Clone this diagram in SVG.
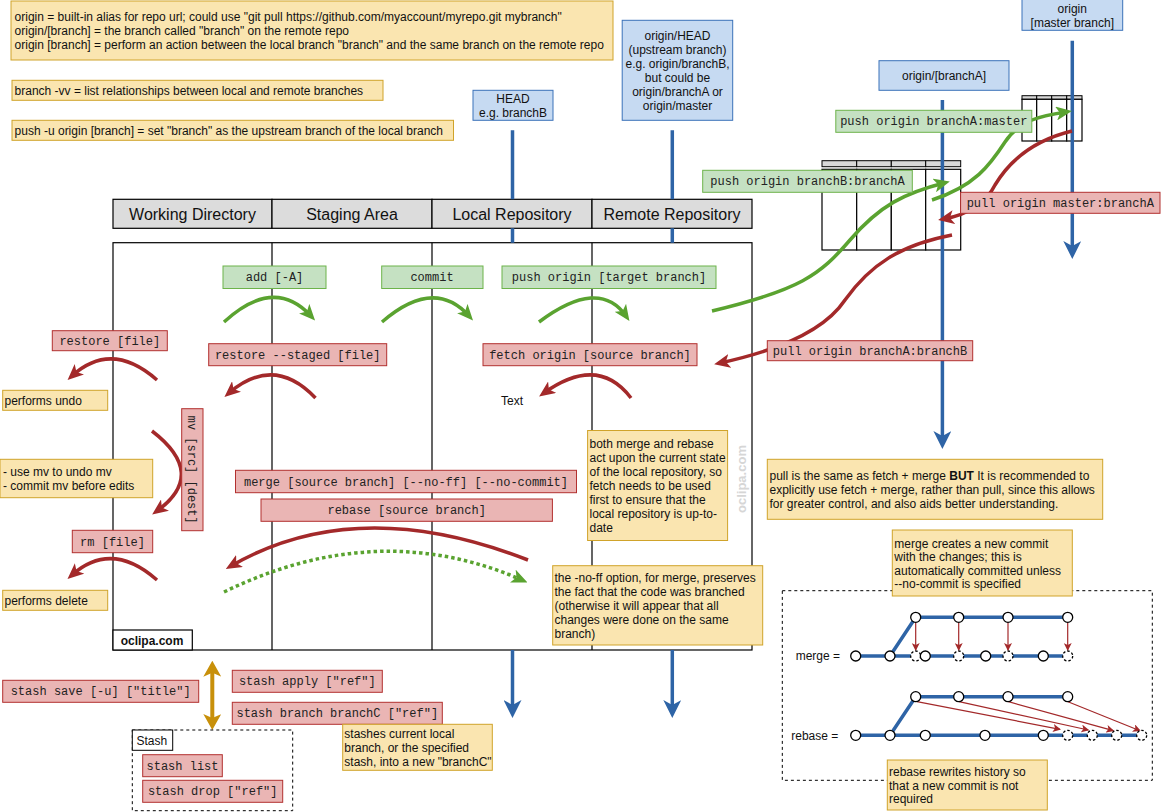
<svg xmlns="http://www.w3.org/2000/svg" width="1161" height="812" viewBox="0 0 1161 812">
<style>
.note{fill:#fae5b0;stroke:#d0a32a;stroke-width:1}
.red{fill:#eab5b4;stroke:#b2302f;stroke-width:1}
.green{fill:#c5e1c2;stroke:#6db34a;stroke-width:1}
.blue{fill:#c6daf2;stroke:#3b72b9;stroke-width:1}
.hdr{fill:#dcdcdc;stroke:#000;stroke-width:1.2}
.t{font-family:"Liberation Sans",Arial,sans-serif;font-size:12px;fill:#111}
.c{text-anchor:middle}
.e{text-anchor:end}
.h{font-size:16px}
.m{font-family:"Liberation Mono","Courier New",monospace;font-size:12px;fill:#222;text-anchor:middle}
.arcG{fill:none;stroke:#5aa330;stroke-width:3.5}
.arcR{fill:none;stroke:#a3292a;stroke-width:3.5}
.bl{fill:none;stroke:#2e64a6;stroke-width:3.5}
.thin{fill:none;stroke:#a3292a;stroke-width:1.2}
.cw{fill:#fff;stroke:#000;stroke-width:1.3}
.cd{fill:#fff;stroke:#000;stroke-width:1.3;stroke-dasharray:2.5 2}
.dash{fill:none;stroke:#000;stroke-width:1;stroke-dasharray:3 3}
.gridh{fill:#d8d8d8;stroke:#000;stroke-width:1}
.gridb{fill:#fff;stroke:#000;stroke-width:1.2}
</style>
<defs>
<marker id="ahG" viewBox="0 0 16 14" refX="10" refY="7" markerWidth="16" markerHeight="14" markerUnits="userSpaceOnUse" orient="auto"><path d="M0,0 L16,7 L0,14 L4,7 Z" fill="#5aa330"/></marker>
<marker id="ahR" viewBox="0 0 16 14" refX="10" refY="7" markerWidth="16" markerHeight="14" markerUnits="userSpaceOnUse" orient="auto"><path d="M0,0 L16,7 L0,14 L4,7 Z" fill="#a3292a"/></marker>
<marker id="ahB" viewBox="0 0 18 18" refX="12" refY="9" markerWidth="18" markerHeight="18" markerUnits="userSpaceOnUse" orient="auto"><path d="M0,0 L18,9 L0,18 L5,9 Z" fill="#2e64a6"/></marker>
<marker id="ahO" viewBox="0 0 16 18" refX="10" refY="9" markerWidth="16" markerHeight="18" markerUnits="userSpaceOnUse" orient="auto-start-reverse"><path d="M0,0 L16,9 L0,18 L4,9 Z" fill="#c8900a"/></marker>
<marker id="ahS" viewBox="0 0 8 8" refX="7" refY="4" markerWidth="8" markerHeight="8" markerUnits="userSpaceOnUse" orient="auto"><path d="M0,0 L8,4 L0,8 L2,4 Z" fill="#a3292a"/></marker>
</defs>

<!-- top notes -->
<g id="note-origin">
<rect class="note" x="11" y="1" width="602" height="59"/>
<text class="t" x="14.6" y="21">origin = built-in alias for repo url; could use "git pull https://github.com/myaccount/myrepo.git mybranch"</text>
<text class="t" x="14.6" y="35">origin/[branch] = the branch called "branch" on the remote repo</text>
<text class="t" x="14.6" y="49">origin [branch] = perform an action between the local branch "branch" and the same branch on the remote repo</text>
</g>
<g id="note-vv"><rect class="note" x="12" y="80.3" width="371" height="20"/><text class="t" x="14.6" y="95">branch -vv = list relationships between local and remote branches</text></g>
<g id="note-pushu"><rect class="note" x="12" y="120.3" width="441.5" height="20"/><text class="t" x="14.6" y="134.6">push -u origin [branch] = set "branch" as the upstream branch of the local branch</text></g>

<!-- lifeline heads -->
<g id="head"><rect class="blue" x="473" y="90.3" width="80" height="30"/><text class="t c" x="513" y="103.3">HEAD</text><text class="t c" x="513" y="117">e.g. branchB</text></g>
<g id="origin-head"><rect class="blue" x="622.2" y="20.3" width="110.5" height="100"/>
<text class="t c" x="677.5" y="40">origin/HEAD</text>
<text class="t c" x="677.5" y="54.3">(upstream branch)</text>
<text class="t c" x="677.5" y="68.3">e.g. origin/branchB,</text>
<text class="t c" x="677.5" y="82.3">but could be</text>
<text class="t c" x="677.5" y="96.3">origin/branchA or</text>
<text class="t c" x="677.5" y="110.3">origin/master</text></g>
<g id="origin-brancha"><rect class="blue" x="879" y="60.7" width="130" height="29.6"/><text class="t c" x="944" y="80.3">origin/[branchA]</text></g>
<g id="origin-master"><rect class="blue" x="1022" y="-1" width="100.7" height="31.3"/><text class="t c" x="1072.3" y="13.2">origin</text><text class="t c" x="1072.3" y="27">[master branch]</text></g>

<!-- lane headers -->
<g id="lane-headers">
<rect class="hdr" x="113" y="199.3" width="159" height="29"/>
<rect class="hdr" x="272" y="199.3" width="160" height="29"/>
<rect class="hdr" x="432" y="199.3" width="160" height="29"/>
<rect class="hdr" x="592" y="199.3" width="160" height="29"/>
<text class="t c h" x="192.5" y="219.5">Working Directory</text>
<text class="t c h" x="352" y="219.5">Staging Area</text>
<text class="t c h" x="512" y="219.5">Local Repository</text>
<text class="t c h" x="672" y="219.5">Remote Repository</text>
</g>
<g id="frame">
<rect x="113" y="242.7" width="639" height="407.3" fill="#fff" stroke="#000" stroke-width="1.2"/>
<path d="M272,242.7 V650 M432,242.7 V650 M592,242.7 V650" stroke="#000" stroke-width="1.2" fill="none"/>
</g>

<!-- remote grids -->
<g id="grid-brancha">
<rect class="gridh" x="822" y="160.7" width="34.7" height="6"/><rect class="gridh" x="856.7" y="160.7" width="34.6" height="6"/><rect class="gridh" x="891.3" y="160.7" width="34.4" height="6"/><rect class="gridh" x="925.7" y="160.7" width="35" height="6"/>
<rect class="gridb" x="822" y="169.3" width="34.7" height="80.7"/><rect class="gridb" x="856.7" y="169.3" width="34.6" height="80.7"/><rect class="gridb" x="891.3" y="169.3" width="34.4" height="80.7"/><rect class="gridb" x="925.7" y="169.3" width="35" height="80.7"/>
</g>
<g id="grid-master">
<rect class="gridh" x="1022" y="95.7" width="14.7" height="3.6"/><rect class="gridh" x="1036.7" y="95.7" width="15" height="3.6"/><rect class="gridh" x="1051.7" y="95.7" width="15" height="3.6"/><rect class="gridh" x="1066.7" y="95.7" width="15.3" height="3.6"/>
<rect class="gridb" x="1022" y="99.3" width="14.7" height="41.7"/><rect class="gridb" x="1036.7" y="99.3" width="15" height="41.7"/><rect class="gridb" x="1051.7" y="99.3" width="15" height="41.7"/><rect class="gridb" x="1066.7" y="99.3" width="15.3" height="41.7"/>
</g>

<!-- connectors -->
<g id="connectors">
<path class="bl" d="M512.5,130.3 V199.3 M512.5,228.3 V242.7"/>
<path class="bl" d="M512.5,650 V712" marker-end="url(#ahB)"/>
<path class="bl" d="M672.3,130.3 V199.3 M672.3,228.3 V242.7"/>
<path class="bl" d="M672.3,650 V712" marker-end="url(#ahB)"/>
<path class="bl" d="M942.4,100 V443" marker-end="url(#ahB)"/>
<path class="bl" d="M1072.3,40.7 V253" marker-end="url(#ahB)"/>

<path class="arcG" d="M224,322 Q274,276 311,316" marker-end="url(#ahG)"/>
<path class="arcG" d="M382,322 Q434,277 469,316" marker-end="url(#ahG)"/>
<path class="arcG" d="M539,322 Q599,277 626,316" marker-end="url(#ahG)"/>

<path class="arcR" d="M315.5,398 Q274,354.5 229,393" marker-end="url(#ahR)"/>
<path class="arcR" d="M631,398 Q598,354.5 544,393" marker-end="url(#ahR)"/>
<path class="arcR" d="M157,380 Q111.5,340 72,376" marker-end="url(#ahR)"/>
<path class="arcR" d="M157,580 Q111.5,540 72,575" marker-end="url(#ahR)"/>
<path class="arcR" d="M152,431 Q208,474 157,511" marker-end="url(#ahR)"/>
<path class="arcR" d="M528,560 Q357,493 231,566" marker-end="url(#ahR)"/>
<path class="arcG" d="M224,592 Q378,517 522,580" stroke-dasharray="3.5 3" marker-end="url(#ahG)"/>

<path class="arcG" d="M712,311 C800,290 820,275 850,240 C880,205 905,193 944,183" marker-end="url(#ahG)"/>
<path class="arcG" d="M932,200 C975,186 990,165 1005,142 C1020,120 1040,116 1066,112" marker-end="url(#ahG)"/>
<path class="arcR" d="M1072,131 C1035,140 1010,160 995,185 C985,205 965,215 944,219" marker-end="url(#ahR)"/>
<path class="arcR" d="M952,235 C900,245 870,265 845,300 C825,330 780,350 720,363" marker-end="url(#ahR)"/>

<path d="M212.3,666.7 V724" fill="none" stroke="#c8900a" stroke-width="4" marker-start="url(#ahO)" marker-end="url(#ahO)"/>
</g>

<!-- command boxes -->
<g id="cmd-add"><rect class="green" x="223" y="266" width="103" height="22.5"/><text class="m" x="274.5" y="281">add [-A]</text></g>
<g id="cmd-commit"><rect class="green" x="381.7" y="266" width="101.3" height="22.5"/><text class="m" x="432" y="281">commit</text></g>
<g id="cmd-push-target"><rect class="green" x="502" y="266" width="214" height="22.5"/><text class="m" x="609" y="281">push origin [target branch]</text></g>
<g id="cmd-restore-staged"><rect class="red" x="208.7" y="343.7" width="178" height="22"/><text class="m" x="297.7" y="358.7">restore --staged [file]</text></g>
<g id="cmd-fetch"><rect class="red" x="483" y="343.7" width="214" height="22"/><text class="m" x="590" y="358.7">fetch origin [source branch]</text></g>
<g id="cmd-merge"><rect class="red" x="235.5" y="470.3" width="341" height="22.4"/><text class="m" x="406" y="485.5">merge [source branch] [--no-ff] [--no-commit]</text></g>
<g id="cmd-rebase"><rect class="red" x="261" y="499" width="291.4" height="22.3"/><text class="m" x="406.7" y="514.2">rebase [source branch]</text></g>
<g id="cmd-restore"><rect class="red" x="52.3" y="330.7" width="115" height="20"/><text class="m" x="109.8" y="344.7">restore [file]</text></g>
<g id="cmd-rm"><rect class="red" x="72.3" y="530.3" width="80.4" height="22.4"/><text class="m" x="112.5" y="545.5">rm [file]</text></g>
<g id="cmd-mv"><rect class="red" x="181.7" y="408.7" width="21.3" height="122"/><text class="m" x="192.3" y="473.7" transform="rotate(90 192.3 469.7)">mv [src] [dest]</text></g>
<g id="cmd-pull-ab"><rect class="red" x="767.3" y="340.7" width="205.4" height="20"/><text class="m" x="870" y="354.7">pull origin branchA:branchB</text></g>
<g id="cmd-pull-ma"><rect class="red" x="960.6" y="192.3" width="199.4" height="21"/><text class="m" x="1060.3" y="206.8">pull origin master:branchA</text></g>
<g id="cmd-push-am"><rect class="green" x="835.8" y="110.3" width="196" height="22"/><text class="m" x="933.8" y="125.3">push origin branchA:master</text></g>
<g id="cmd-push-ba"><rect class="green" x="702.7" y="170.3" width="209.6" height="22"/><text class="m" x="807.5" y="185.3">push origin branchB:branchA</text></g>

<g id="label-text"><text class="t c" x="512" y="405">Text</text></g>

<!-- notes -->
<g id="note-undo"><rect class="note" x="2.7" y="390.3" width="105" height="20"/><text class="t" x="4.5" y="404.7">performs undo</text></g>
<g id="note-mv"><rect class="note" x="0" y="459.3" width="152.7" height="38.4"/><text class="t" x="3" y="476.3">- use mv to undo mv</text><text class="t" x="3" y="490.3">- commit mv before edits</text></g>
<g id="note-delete"><rect class="note" x="2.7" y="590.3" width="105" height="20"/><text class="t" x="4.5" y="604.9">performs delete</text></g>
<g id="note-fetch"><rect class="note" x="587.6" y="430.5" width="140" height="110"/>
<text class="t" x="589.5" y="448.3">both merge and rebase</text>
<text class="t" x="589.5" y="462">act upon the current state</text>
<text class="t" x="589.5" y="476">of the local repository, so</text>
<text class="t" x="589.5" y="490">fetch needs to be used</text>
<text class="t" x="589.5" y="504">first to ensure that the</text>
<text class="t" x="589.5" y="518">local repository is up-to-</text>
<text class="t" x="589.5" y="532">date</text></g>
<g id="note-noff"><rect class="note" x="552.7" y="565.7" width="210" height="79.3"/>
<text class="t" x="554.5" y="581.6">the -no-ff option, for merge, preserves</text>
<text class="t" x="554.5" y="596">the fact that the code was branched</text>
<text class="t" x="554.5" y="610">(otherwise it will appear that all</text>
<text class="t" x="554.5" y="624">changes were done on the same</text>
<text class="t" x="554.5" y="638">branch)</text></g>
<g id="note-pull"><rect class="note" x="767.3" y="459.3" width="335.4" height="60"/>
<text class="t" x="769.5" y="480">pull is the same as fetch + merge <tspan font-weight="bold">BUT</tspan> It is recommended to</text>
<text class="t" x="769.5" y="494">explicitly use fetch + merge, rather than pull, since this allows</text>
<text class="t" x="769.5" y="508">for greater control, and also aids better understanding.</text></g>

<g id="oclipa-box"><rect x="113" y="630" width="79.3" height="20" fill="#fff" stroke="#000" stroke-width="1.2"/><text class="t c" x="152" y="645" font-weight="bold">oclipa.com</text></g>
<g id="watermark"><text class="t c" x="741.7" y="483.5" font-size="13" font-weight="bold" fill="#d6d6d6" style="fill:#d6d6d6;font-size:13px" transform="rotate(-90 741.7 479)">oclipa.com</text></g>

<!-- stash -->
<g id="cmd-stash-save"><rect class="red" x="2.7" y="680.3" width="196" height="22"/><text class="m" x="100.7" y="695.3">stash save [-u] ["title"]</text></g>
<g id="cmd-stash-apply"><rect class="red" x="232.3" y="670.3" width="150" height="22"/><text class="m" x="307.3" y="685.3">stash apply ["ref"]</text></g>
<g id="cmd-stash-branch"><rect class="red" x="232.3" y="702.3" width="210" height="22"/><text class="m" x="337.3" y="717.3">stash branch branchC ["ref"]</text></g>
<g id="note-stash-branch"><rect class="note" x="342.7" y="724.3" width="149.6" height="46"/>
<text class="t" x="344.3" y="738.3">stashes current local</text>
<text class="t" x="344.3" y="752.3">branch, or the specified</text>
<text class="t" x="344.3" y="766.3">stash, into a new "branchC"</text></g>
<g id="stash">
<rect class="dash" x="132.3" y="730" width="160.4" height="80.7"/>
<rect x="132.3" y="730" width="40.4" height="20.3" fill="#fff" stroke="#000" stroke-width="1"/>
<text class="t" x="136.5" y="744.5">Stash</text>
</g>
<g id="cmd-stash-list"><rect class="red" x="142.7" y="754.7" width="79.6" height="22"/><text class="m" x="182.5" y="769.7">stash list</text></g>
<g id="cmd-stash-drop"><rect class="red" x="142.7" y="780.3" width="140" height="22"/><text class="m" x="212.7" y="795.3">stash drop ["ref"]</text></g>

<!-- merge / rebase illustration -->
<g id="merge-rebase">
<rect class="dash" x="782.3" y="590.7" width="370" height="189.6"/>
<path class="bl" d="M855.7,656 H1067.7 M890,656 L915.7,617.3 H1067.7" stroke-width="4"/>
<path class="bl" d="M855.7,735.3 H1141.7 M890,735.3 L915.7,696.7 H1067.7" stroke-width="4"/>
<path class="thin" d="M915.7,622.5 V650" marker-end="url(#ahS)"/>
<path class="thin" d="M958.7,622.5 V650" marker-end="url(#ahS)"/>
<path class="thin" d="M1008,622.5 V650" marker-end="url(#ahS)"/>
<path class="thin" d="M1067.7,622.5 V650" marker-end="url(#ahS)"/>
<path class="thin" d="M917,701.7 L1060,729.3" marker-end="url(#ahS)"/>
<path class="thin" d="M959,701.7 L1088.3,730" marker-end="url(#ahS)"/>
<path class="thin" d="M1008.5,701.7 L1113.3,730.7" marker-end="url(#ahS)"/>
<path class="thin" d="M1068,701.7 L1140,730.7" marker-end="url(#ahS)"/>
<circle class="cw" cx="855.7" cy="656" r="5"/><circle class="cw" cx="890" cy="656" r="5"/><circle class="cd" cx="915.7" cy="656" r="5"/><circle class="cw" cx="925.3" cy="656" r="5"/><circle class="cd" cx="958.7" cy="656" r="5"/><circle class="cw" cx="985.7" cy="656" r="5"/><circle class="cd" cx="1008" cy="656" r="5"/><circle class="cw" cx="1043.3" cy="656" r="5"/><circle class="cd" cx="1067.7" cy="656" r="5"/>
<circle class="cw" cx="915.7" cy="617.3" r="5"/><circle class="cw" cx="958.7" cy="617.3" r="5"/><circle class="cw" cx="1008" cy="617.3" r="5"/><circle class="cw" cx="1067.7" cy="617.3" r="5"/>
<circle class="cw" cx="855.7" cy="735.3" r="5"/><circle class="cw" cx="890" cy="735.3" r="5"/><circle class="cw" cx="925.3" cy="735.3" r="5"/><circle class="cw" cx="985" cy="735.3" r="5"/><circle class="cw" cx="1043.3" cy="735.3" r="5"/><circle class="cd" cx="1067.7" cy="735.3" r="5"/><circle class="cd" cx="1092.3" cy="735.3" r="5"/><circle class="cd" cx="1116.7" cy="735.3" r="5"/><circle class="cd" cx="1141.7" cy="735.3" r="5"/>
<circle class="cw" cx="915.7" cy="696.7" r="5"/><circle class="cw" cx="958.7" cy="696.7" r="5"/><circle class="cw" cx="1008" cy="696.7" r="5"/><circle class="cw" cx="1067.7" cy="696.7" r="5"/>
<text class="t e" x="840" y="660.3">merge =</text>
<text class="t e" x="838.3" y="739.6">rebase =</text>
</g>
<g id="note-merge"><rect class="note" x="892.3" y="530" width="180" height="66"/>
<text class="t" x="894.3" y="547.6">merge creates a new commit</text>
<text class="t" x="894.3" y="561">with the changes; this is</text>
<text class="t" x="894.3" y="575">automatically committed unless</text>
<text class="t" x="894.3" y="588.3">--no-commit is specified</text></g>
<g id="note-rebase"><rect class="note" x="887.3" y="760" width="160" height="50"/>
<text class="t" x="889" y="776">rebase rewrites history so</text>
<text class="t" x="889" y="790">that a new commit is not</text>
<text class="t" x="889" y="803.3">required</text></g>
</svg>
